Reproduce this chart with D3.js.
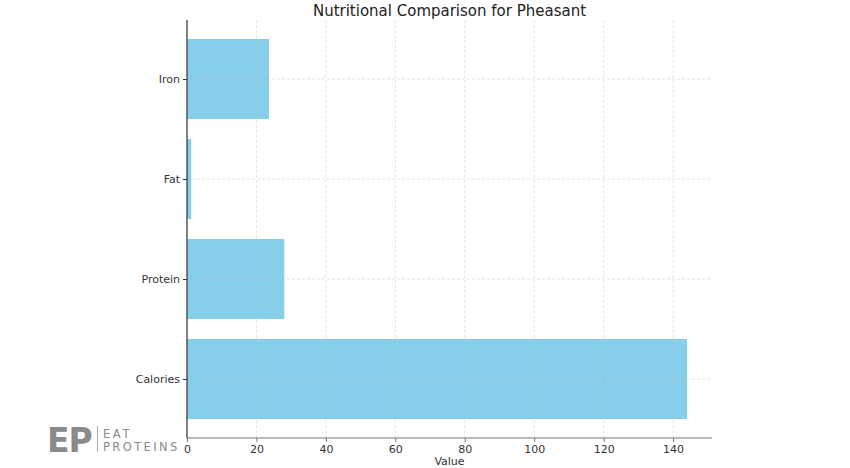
<!DOCTYPE html>
<html><head><meta charset="utf-8">
<script src="https://cdn.jsdelivr.net/npm/d3@7"></script>
<style>body{margin:0;background:#fff}svg{display:block}text{font-family:"DejaVu Sans",sans-serif}</style>
</head><body><svg id="c" width="850" height="468"></svg>
<script>
const categories = ["Calories", "Protein", "Fat", "Iron"];
const values = [144, 28, 1.2, 23.6];
const xTicks = [0, 20, 40, 60, 80, 100, 120, 140];
const title = "Nutritional Comparison for Pheasant";
const xLabel = "Value";

const svg = d3.select("#c");
const L = 187, R = 712, T = 20, B = 438;
const x = d3.scaleLinear().domain([0, 144 * 1.05]).range([L, R]);
// matplotlib-style categorical axis: index positions with padding
const y = d3.scaleLinear().domain([-0.59, 3.59]).range([B, T]);
const barH = 0.8;

// bars
svg.append("g").selectAll("rect").data(categories).join("rect")
  .attr("x", x(0))
  .attr("y", (d, i) => y(i + barH / 2))
  .attr("height", (d, i) => y(i - barH / 2) - y(i + barH / 2))
  .attr("width", (d, i) => x(values[i]) - x(0))
  .attr("fill", "#87CEEB");

// grid
const grid = svg.append("g").attr("stroke", "#b0b0b0").attr("stroke-opacity", 0.45)
  .attr("stroke-dasharray", "3,2").attr("stroke-width", 0.8);
grid.selectAll("line.v").data(xTicks).join("line").attr("class", "v")
  .attr("x1", d => x(d)).attr("x2", d => x(d)).attr("y1", T).attr("y2", B);
grid.selectAll("line.h").data(categories).join("line").attr("class", "h")
  .attr("x1", L).attr("x2", R).attr("y1", (d, i) => y(i)).attr("y2", (d, i) => y(i));

// x axis
const xa = svg.append("g").attr("transform", `translate(0,${B})`)
  .call(d3.axisBottom(x).tickValues(xTicks).tickSize(4).tickPadding(3).tickFormat(d3.format("d")));
xa.select(".domain").attr("stroke", "#777").attr("stroke-width", 1.2).attr("d", `M${L},0H${R}`);
xa.selectAll(".tick line").attr("stroke", "#777");
xa.selectAll("text").attr("font-size", 11).attr("fill", "#333").attr("font-family", "DejaVu Sans");

// y axis
const ya = svg.append("g").attr("transform", `translate(${L},0)`)
  .call(d3.axisLeft(y).tickValues([0, 1, 2, 3]).tickSize(4).tickPadding(3).tickFormat(i => categories[i]));
ya.select(".domain").attr("stroke", "#333").attr("stroke-width", 1.2).attr("d", `M0,${T}V${B}`);
ya.selectAll(".tick line").attr("stroke", "#333");
ya.selectAll("text").attr("font-size", 11).attr("fill", "#333").attr("font-family", "DejaVu Sans");

// title & label
svg.append("text").attr("x", (L + R) / 2).attr("y", 16).attr("text-anchor", "middle")
  .attr("font-size", 15).attr("fill", "#222").text(title);
svg.append("text").attr("x", (L + R) / 2).attr("y", 465).attr("text-anchor", "middle")
  .attr("font-size", 11).attr("fill", "#333").text(xLabel);

// logo
const lg = svg.append("g").attr("fill", "#8a8a8a");
lg.append("text").attr("x", 47).attr("y", 452).attr("font-size", 33).attr("font-weight", "bold")
  .attr("font-family", "Liberation Sans").attr("letter-spacing", -1).text("EP");
lg.append("line").attr("x1", 97.5).attr("x2", 97.5).attr("y1", 426).attr("y2", 452)
  .attr("stroke", "#aaa").attr("stroke-width", 1);
lg.append("text").attr("x", 103).attr("y", 438).attr("font-size", 11.5)
  .attr("letter-spacing", 2.6).attr("font-family", "Liberation Sans").text("EAT");
lg.append("text").attr("x", 103).attr("y", 451).attr("font-size", 11.5)
  .attr("letter-spacing", 2.4).attr("font-family", "Liberation Sans").text("PROTEINS");
</script></body></html>
